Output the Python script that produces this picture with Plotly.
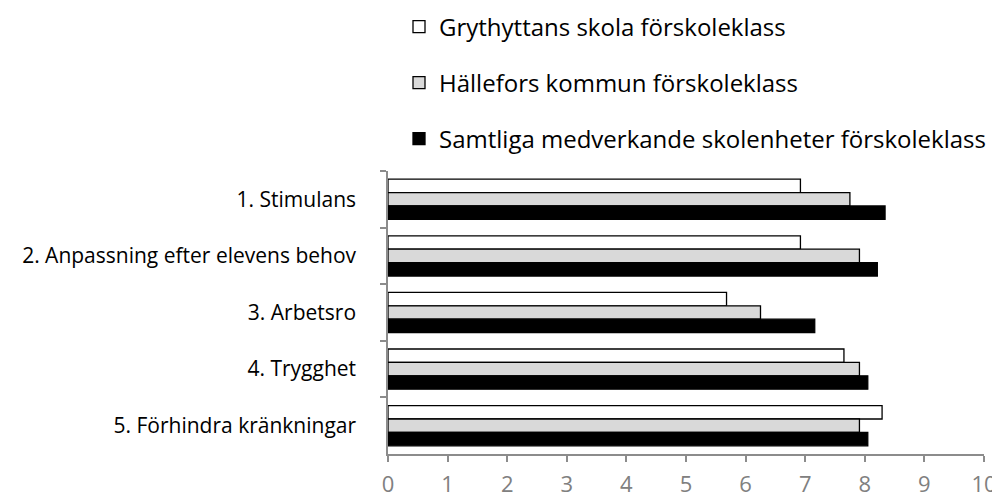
import plotly.graph_objects as go

categories = ["1. Stimulans", "2. Anpassning efter elevens behov", "3. Arbetsro",
              "4. Trygghet", "5. Förhindra kränkningar"]
series_names = ["Grythyttans skola förskoleklass",
                "Hällefors kommun förskoleklass",
                "Samtliga medverkande skolenheter förskoleklass"]
grythyttan = [6.92, 6.92, 5.68, 7.65, 8.29]
hallefors = [7.75, 7.91, 6.25, 7.91, 7.91]
samtliga = [8.34, 8.21, 7.16, 8.05, 8.05]
x_ticks = list(range(0, 11))

# the page body has an 8px margin; the figure is sized to fit the window
W, H = 992, 491
FONT = "Open Sans"

fills = ["#FFFFFF", "#D9D9D9", "#000000"]
values = [grythyttan, hallefors, samtliga]
legend_names = ["legend", "legend2", "legend3"]

fig = go.Figure()
for i in range(3):
    fig.add_trace(go.Bar(
        y=categories, x=values[i], orientation="h", name=series_names[i],
        marker=dict(color=fills[i], line=dict(color="#000000", width=1.3)),
        legend=legend_names[i],
    ))

legend_y = [19, 75, 131]
leg_common = dict(xref="container", yref="container", xanchor="left", yanchor="middle",
                  font=dict(family=FONT, size=24, color="#000000"),
                  bgcolor="rgba(0,0,0,0)")
legs = {}
for name, yy in zip(legend_names, legend_y):
    legs[name] = dict(x=391 / W, y=1 - yy / H, **leg_common)

fig.update_layout(
    width=W, height=H,
    margin=dict(l=380, r=16, t=163, b=45, autoexpand=False),
    paper_bgcolor="white", plot_bgcolor="white",
    barmode="group", bargap=0.29, bargroupgap=0,
    showlegend=True,
    **legs,
    xaxis=dict(range=[0, 10], tickvals=x_ticks, showgrid=False, zeroline=False,
               showline=True, linecolor="#8C8C8C", linewidth=1.5,
               ticks="outside", ticklen=6, tickcolor="#8C8C8C", tickwidth=1.5,
               ticklabelstandoff=4,
               tickfont=dict(family=FONT, size=22, color="#808080"),
               fixedrange=True, automargin=False),
    yaxis=dict(categoryorder="array", categoryarray=categories, autorange="reversed",
               showgrid=False, showline=True, linecolor="#8C8C8C", linewidth=1.5,
               ticks="outside", ticklen=6, tickcolor="#8C8C8C", tickwidth=1.5,
               tickson="boundaries", ticklabelstandoff=26,
               tickfont=dict(family=FONT, size=21, color="#000000"),
               fixedrange=True, automargin=False),
)

fig.write_html("out.html")
